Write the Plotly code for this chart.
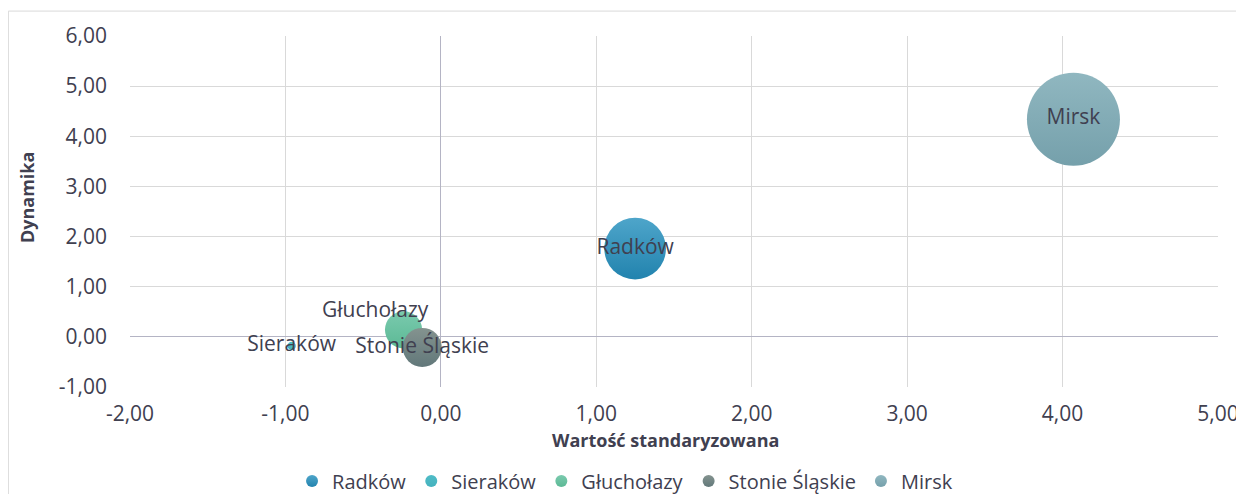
import plotly.graph_objects as go

names = ["Radków", "Sieraków", "Głuchołazy", "Stonie Śląskie", "Mirsk"]
x_vals = [1.25, -0.96, -0.24, -0.12, 4.07]
y_vals = [1.76, -0.18, 0.14, -0.21, 4.34]
sizes = [44.0, 0.8, 16.0, 17.6, 100.0]
colors_top = ["#4EA5CA", "#4FBCC7", "#7ACAAE", "#84938F", "#90B7C0"]
colors_bot = ["#2283AE", "#45B2BE", "#5CB995", "#62787A", "#75A0AB"]
x_ticks = [-2, -1, 0, 1, 2, 3, 4, 5]
y_ticks = [-1, 0, 1, 2, 3, 4, 5, 6]

def fmt(v):
    return f"{v:.2f}".replace(".", ",")

FONT = "Open Sans"
LABEL_COLOR = "#404050"
max_diam = 93
sizeref = 2.0 * max(sizes) / max_diam ** 2

fig = go.Figure()
for i, n in enumerate(names):
    show_text = n != "Głuchołazy"
    fig.add_trace(go.Scatter(
        x=[x_vals[i]], y=[y_vals[i]], name=n,
        mode="markers+text" if show_text else "markers",
        text=[n] if show_text else None,
        textposition="middle center",
        textfont=dict(family=FONT, size=21, color=LABEL_COLOR),
        marker=dict(size=[sizes[i]], sizemode="area", sizeref=sizeref,
                    color=colors_top[i], opacity=1,
                    gradient=dict(type="vertical", color=colors_bot[i]),
                    line=dict(width=0)),
    ))

gi = names.index("Głuchołazy")
fig.add_annotation(x=x_vals[gi], y=y_vals[gi], text=names[gi], showarrow=False,
                   xshift=-28, yshift=21,
                   font=dict(family=FONT, size=21, color=LABEL_COLOR))

# axis titles
fig.add_annotation(xref="paper", yref="paper", x=0.492, y=-0.151,
                   text="<b>Wartość standaryzowana</b>", showarrow=False,
                   xanchor="center", yanchor="middle",
                   font=dict(family=FONT, size=18, color="#404050"))
fig.add_annotation(xref="paper", yref="paper", x=-0.0947, y=0.541,
                   text="<b>Dynamika</b>", showarrow=False, textangle=-90,
                   xanchor="center", yanchor="middle",
                   font=dict(family=FONT, size=18, color="#404050"))

fig.update_layout(
    width=1236, height=486,
    margin=dict(l=122, r=26, t=28, b=107, autoexpand=False),
    paper_bgcolor="white", plot_bgcolor="white",
    font=dict(family=FONT, color="#595959"),
    showlegend=True,
    legend=dict(orientation="h", x=0.455, xanchor="center", y=-0.268, yanchor="middle",
                font=dict(family=FONT, size=20, color=LABEL_COLOR), itemsizing="constant",
                itemwidth=30, tracegroupgap=0),
    xaxis=dict(range=[-2, 5], tickvals=x_ticks, ticktext=[fmt(v) for v in x_ticks],
               showgrid=True, gridcolor="#D9D9D9", gridwidth=1,
               zeroline=True, zerolinecolor="#B4B4C4", zerolinewidth=1,
               tickfont=dict(family=FONT, size=21, color="#404050"),
               ticks="", showline=False, automargin=False, ticklabelstandoff=12),
    yaxis=dict(range=[-1, 6], tickvals=y_ticks, ticktext=[fmt(v) for v in y_ticks],
               showgrid=True, gridcolor="#D9D9D9", gridwidth=1,
               zeroline=True, zerolinecolor="#B4B4C4", zerolinewidth=1,
               tickfont=dict(family=FONT, size=21, color="#404050"),
               ticks="", showline=False, automargin=False, ticklabelstandoff=22),
)

fig.add_shape(type="rect", xref="paper", yref="paper",
              x0=-0.1118, x1=1.022, y0=-0.31, y1=1.071,
              line=dict(color="#D9D9D9", width=1), fillcolor="rgba(0,0,0,0)", layer="below")

fig.write_html("out.html")
